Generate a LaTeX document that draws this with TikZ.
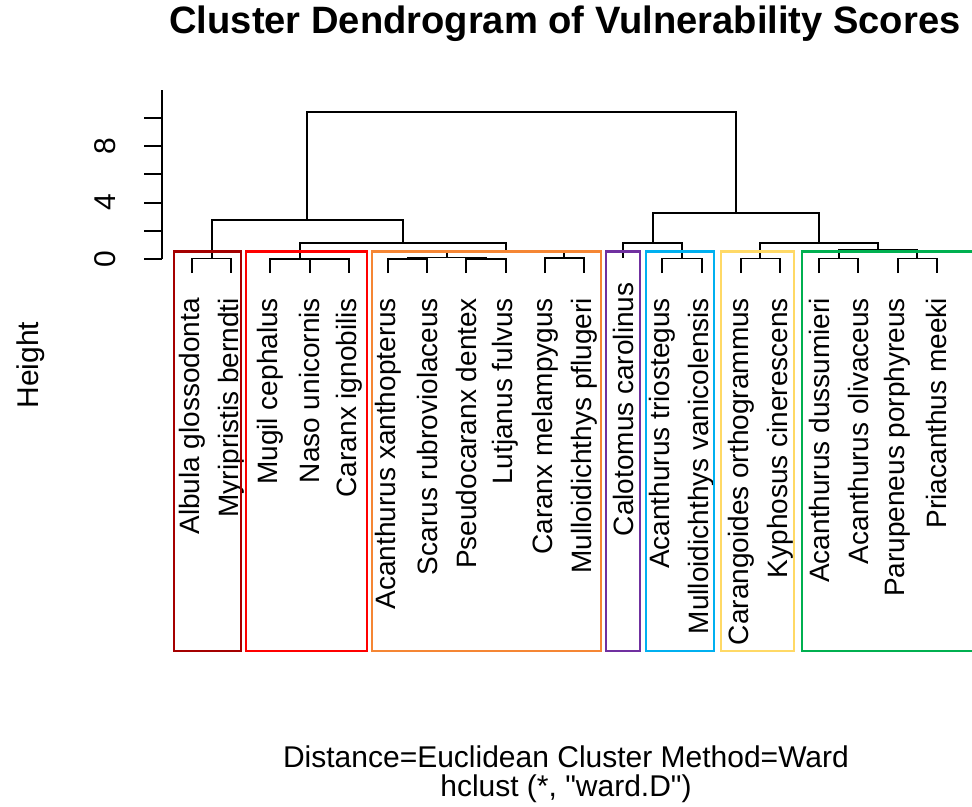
\documentclass[tikz,border=0pt]{standalone}
\usepackage{fontspec}
\setmainfont{Liberation Sans}
\newfontfamily\plainsans{Liberation Sans}
\usepackage{xcolor}
\usetikzlibrary{positioning}

\definecolor{boxdarkred}{HTML}{A50000}
\definecolor{boxred}{HTML}{FF0000}
\definecolor{boxorange}{HTML}{F58634}
\definecolor{boxpurple}{HTML}{7030A0}
\definecolor{boxblue}{HTML}{00B0F0}
\definecolor{boxyellow}{HTML}{FFD966}
\definecolor{boxgreen}{HTML}{00B050}

\tikzset{
    link/.style={line width=1.4pt, black},
    clusterbox/.style={line width=2.2pt},
    leaflabel/.style={rotate=90, anchor=east, inner sep=0pt, font=\fontsize{21}{25}\selectfont},
    axislabel/.style={rotate=90, inner sep=0pt, font=\fontsize{22.5}{27}\selectfont}
}

\begin{document}
\begin{tikzpicture}[x=0.75pt, y=-0.75pt]
            \useasboundingbox (0,0) rectangle (972,807);
            \clip (0,0) rectangle (972,807);

            % Title and captions
            \node [anchor=base, inner sep=0pt, font=\fontsize{28.6}{32}\selectfont\bfseries] (title) at (565,33) {Cluster Dendrogram of Vulnerability Scores};
            \node [anchor=base, inner sep=0pt, font=\fontsize{22.5}{27}\selectfont] (sub1) at (566,767) {Distance=Euclidean Cluster Method=Ward};
            \node [anchor=base, inner sep=0pt, font=\plainsans\fontsize{22.5}{27}\selectfont] (sub2) at (566,796) {hclust (*, "ward.D")};

            % Height axis
            \draw[link] (162,90) -- (162,259);
            \foreach \t in {0,2,...,10} {
                    \draw[link] (162,259-14.1*\t) -- ++(-18,0);
                }
            \foreach \t in {0,4,8} {
                    \node [axislabel] (tick\t) at (105,259-14.1*\t) {\t};
                }
            \node [axislabel] (ylab) at (31,365) {Height};

            % Leaf ends
            \foreach \i in {1,...,20} {
                    \pgfmathsetmacro\lx{192+39.2*(\i-1)}
                    \ifnum\i=12 \def\ly{257.7}\else \def\ly{273.2}\fi
                    \coordinate (leaf\i) at (\lx,\ly);
                }

            % Leaf labels
            \foreach \i/\name in {1/Albula glossodonta, 2/Myripristis berndti, 3/Mugil cephalus,
                    4/Naso unicornis, 5/Caranx ignobilis, 6/Acanthurus xanthopterus,
                    7/Scarus rubroviolaceus, 8/Pseudocaranx dentex, 9/Lutjanus fulvus,
                    10/Caranx melampygus, 11/Mulloidichthys pflugeri, 12/Calotomus carolinus,
                    13/Acanthurus triostegus, 14/Mulloidichthys vanicolensis, 15/Carangoides orthogrammus,
                    16/Kyphosus cinerescens, 17/Acanthurus dussumieri, 18/Acanthurus olivaceus,
                    19/Parupeneus porphyreus, 20/Priacanthus meeki} {
                    \node [leaflabel] (label\i) at ([yshift=-18.4pt]leaf\i) {\name};
                }

            % Merge points
            \coordinate (mA) at (211.6,258.5);
            \coordinate (mB) at (329.2,259.3);
            \coordinate (mC) at (299.8,258.8);
            \coordinate (mD) at (407.6,258.7);
            \coordinate (mE) at (486.0,258.7);
            \coordinate (mF) at (446.8,257.5);
            \coordinate (mG) at (564.4,258.0);
            \coordinate (mH) at (505.6,252.5);
            \coordinate (mI) at (402.7,243.0);
            \coordinate (mJ) at (307.2,220.0);
            \coordinate (mK) at (682.0,258.5);
            \coordinate (mL) at (652.6,243.0);
            \coordinate (mM) at (760.4,258.5);
            \coordinate (mN) at (838.8,258.5);
            \coordinate (mO) at (917.2,258.5);
            \coordinate (mP) at (878.0,250.0);
            \coordinate (mQ) at (819.2,243.0);
            \coordinate (mR) at (735.9,213.0);
            \coordinate (root) at (521.5,112.0);

            % Draw the links
            \draw[link] (leaf1) |- (mA) -| (leaf2);
            \draw[link] (leaf4) |- (mB) -| (leaf5);
            \draw[link] (leaf3) |- (mC) -| (mB);
            \draw[link] (leaf6) |- (mD) -| (leaf7);
            \draw[link] (leaf8) |- (mE) -| (leaf9);
            \draw[link] (mD) |- (mF) -| (mE);
            \draw[link] (leaf10) |- (mG) -| (leaf11);
            \draw[link] (mF) |- (mH) -| (mG);
            \draw[link] (mC) |- (mI) -| (mH);
            \draw[link] (mA) |- (mJ) -| (mI);
            \draw[link] (leaf13) |- (mK) -| (leaf14);
            \draw[link] (leaf12) |- (mL) -| (mK);
            \draw[link] (leaf15) |- (mM) -| (leaf16);
            \draw[link] (leaf17) |- (mN) -| (leaf18);
            \draw[link] (leaf19) |- (mO) -| (leaf20);
            \draw[link] (mN) |- (mP) -| (mO);
            \draw[link] (mM) |- (mQ) -| (mP);
            \draw[link] (mL) |- (mR) -| (mQ);
            \draw[link] (mJ) |- (root) -| (mR);

            % Cluster boxes
            \foreach \xa/\xb/\col in {174/241/boxdarkred, 246/367/boxred, 372/601/boxorange,
                    606/640/boxpurple, 646/714/boxblue, 721/794/boxyellow, 802/990/boxgreen} {
                    \draw[clusterbox, \col] (\xa,251.5) rectangle (\xb,651);
                }

        \end{tikzpicture}
\end{document}
